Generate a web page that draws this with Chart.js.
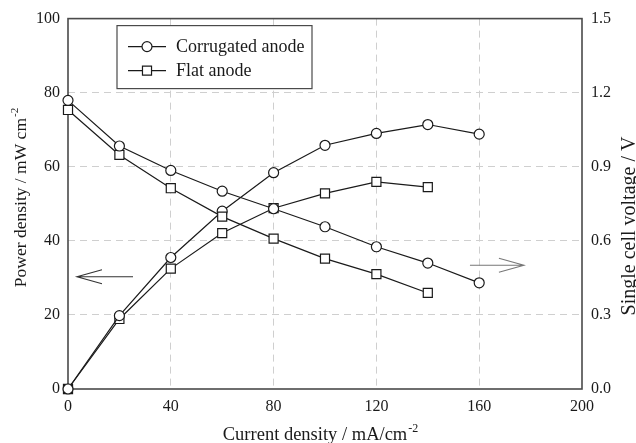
<!DOCTYPE html>
<html><head><meta charset="utf-8">
<script src="https://cdn.jsdelivr.net/npm/chart.js@4/dist/chart.umd.min.js"></script>
<style>html,body{margin:0;padding:0;background:#fff}#wrap{width:636px;height:443px}</style>
</head><body><div id="wrap"><canvas id="c" width="636" height="443"></canvas></div>
<script>
const currentDensity = [0, 20, 40, 60, 80, 100, 120, 140, 160];
const corrugatedPower = [0, 19.8, 35.5, 48.0, 58.4, 65.8, 69.0, 71.4, 68.8];
const corrugatedVoltage = [1.169, 0.984, 0.885, 0.801, 0.730, 0.657, 0.576, 0.510, 0.430];
const flatCurrent = [0, 20, 40, 60, 80, 100, 120, 140];
const flatPower = [0, 18.9, 32.5, 42.1, 48.8, 52.8, 55.9, 54.5];
const flatVoltage = [1.130, 0.948, 0.813, 0.698, 0.609, 0.528, 0.465, 0.389];
const xTicks = [0, 40, 80, 120, 160, 200];
const leftTicks = [0, 20, 40, 60, 80, 100];
const rightTicks = [0, 0.3, 0.6, 0.9, 1.2, 1.5];
const seriesNames = ['Corrugated anode', 'Flat anode'];
const xTitle = ['Current density / mA/cm', '-2'];
const yTitle = ['Power density / mW cm', '-2'];
const y1Title = 'Single cell voltage / V';
// arrows: [xStart, xEnd, yValue] in data units of x / left axis
const leftArrow = [25.3, 3.5, 30.3];
const rightArrow = [156.4, 177.4, 33.4];

const FONT = "'Liberation Serif', 'Times New Roman', serif";
const INK = '#1a1a1a';
const pts = (xs, ys) => xs.map((x, i) => ({x: x, y: ys[i]}));

function ds(label, data, axis, style, radius) {
  return {
    label: label, data: data, yAxisID: axis,
    borderColor: INK, borderWidth: 1.2, backgroundColor: '#fff',
    pointStyle: style, pointRadius: radius, pointBorderWidth: 1.2,
    pointBackgroundColor: '#fff', pointBorderColor: INK,
    showLine: true, tension: 0, clip: false
  };
}

function gridColor(min, max) {
  return (c) => (c.tick && (c.tick.value === min || c.tick.value === max)) ? 'rgba(0,0,0,0)' : '#cfcfcf';
}

function drawSupText(ctx, main, sup, x, y, size) {
  ctx.font = size + 'px ' + FONT;
  const w1 = ctx.measureText(main).width;
  ctx.font = Math.round(size * 0.65) + 'px ' + FONT;
  const w2 = ctx.measureText(sup).width;
  const start = x - (w1 + w2) / 2;
  ctx.textAlign = 'left';
  ctx.textBaseline = 'alphabetic';
  ctx.font = size + 'px ' + FONT;
  ctx.fillText(main, start, y);
  ctx.font = Math.round(size * 0.65) + 'px ' + FONT;
  ctx.fillText(sup, start + w1 + 1, y - size * 0.45);
}

function arrow(ctx, x0, x1, y, color) {
  const dir = x1 > x0 ? 1 : -1;
  ctx.save();
  ctx.strokeStyle = color; ctx.lineWidth = 1.1;
  ctx.beginPath();
  ctx.moveTo(x0, y); ctx.lineTo(x1, y);
  ctx.moveTo(x1 - dir * 25, y - 7); ctx.lineTo(x1, y); ctx.lineTo(x1 - dir * 25, y + 7);
  ctx.stroke();
  ctx.restore();
}

const framePlugin = {
  id: 'frame',
  beforeDatasetsDraw(chart) {
    const a = chart.chartArea, ctx = chart.ctx;
    ctx.save();
    ctx.strokeStyle = '#4a4a4a'; ctx.lineWidth = 1.6;
    ctx.strokeRect(a.left, a.top, a.right - a.left, a.bottom - a.top);
    ctx.restore();
  },
  afterDraw(chart) {
    const a = chart.chartArea, ctx = chart.ctx;
    const sx = chart.scales.x, sy = chart.scales.y;
    // arrows
    arrow(ctx, sx.getPixelForValue(leftArrow[0]), sx.getPixelForValue(leftArrow[1]), sy.getPixelForValue(leftArrow[2]), '#333');
    arrow(ctx, sx.getPixelForValue(rightArrow[0]), sx.getPixelForValue(rightArrow[1]), sy.getPixelForValue(rightArrow[2]), '#777');
    // legend
    const lx = a.left + 49, ly = a.top + 7, lw = 195, lh = 63;
    ctx.save();
    ctx.fillStyle = '#fff'; ctx.fillRect(lx, ly, lw, lh);
    ctx.strokeStyle = '#4a4a4a'; ctx.lineWidth = 1.2; ctx.strokeRect(lx, ly, lw, lh);
    const styles = [['circle', 5], ['rect', 6.4]];
    seriesNames.forEach((name, i) => {
      const yy = ly + 21 + i * 24;
      ctx.strokeStyle = INK; ctx.lineWidth = 1.2;
      ctx.beginPath(); ctx.moveTo(lx + 11, yy); ctx.lineTo(lx + 49, yy); ctx.stroke();
      ctx.fillStyle = '#fff'; ctx.strokeStyle = INK;
      Chart.helpers.drawPoint(ctx, {pointStyle: styles[i][0], radius: styles[i][1], borderWidth: 1.2, rotation: 0}, lx + 30, yy);
      ctx.fillStyle = '#1a1a1a';
      ctx.font = '18px ' + FONT; ctx.textAlign = 'left'; ctx.textBaseline = 'middle';
      ctx.fillText(name, lx + 59, yy + 1);
    });
    // axis titles
    ctx.fillStyle = '#1a1a1a';
    drawSupText(ctx, xTitle[0], xTitle[1], 320, 440, 18.5);
    ctx.save();
    ctx.translate(26, 198); ctx.rotate(-Math.PI / 2);
    drawSupText(ctx, yTitle[0], yTitle[1], 0, 0, 17.5);
    ctx.restore();
    ctx.save();
    ctx.translate(635, 226); ctx.rotate(-Math.PI / 2);
    ctx.font = '20px ' + FONT; ctx.textAlign = 'center'; ctx.textBaseline = 'alphabetic';
    ctx.fillText(y1Title, 0, 0);
    ctx.restore();
    ctx.restore();
  }
};

const tickFont = {family: FONT, size: 16};

new Chart(document.getElementById('c'), {
  type: 'scatter',
  data: {
    datasets: [
      ds(seriesNames[0], pts(currentDensity, corrugatedVoltage), 'y1', 'circle', 5),
      ds(seriesNames[1], pts(flatCurrent, flatVoltage), 'y1', 'rect', 6.4),
      ds(seriesNames[0], pts(currentDensity, corrugatedPower), 'y', 'circle', 5),
      ds(seriesNames[1], pts(flatCurrent, flatPower), 'y', 'rect', 6.4)
    ]
  },
  options: {
    responsive: false, animation: false, devicePixelRatio: 1,
    layout: {padding: {top: 16, left: 0, right: 0, bottom: 0}},
    plugins: {legend: {display: false}, tooltip: {enabled: false}},
    scales: {
      x: {
        type: 'linear', min: 0, max: 200,
        afterBuildTicks: (s) => { s.ticks = xTicks.map(v => ({value: v})); },
        afterFit: (s) => { s.height = 54; },
        grid: {color: gridColor(0, 200), drawTicks: false, lineWidth: 1},
        border: {display: false, dash: [7, 5]},
        ticks: {font: tickFont, color: '#1a1a1a', padding: 8, maxRotation: 0}
      },
      y: {
        type: 'linear', position: 'left', min: 0, max: 100,
        afterBuildTicks: (s) => { s.ticks = leftTicks.map(v => ({value: v})); },
        afterFit: (s) => { s.width = 68; },
        grid: {color: gridColor(0, 100), drawTicks: false, lineWidth: 1},
        border: {display: false, dash: [7, 5]},
        ticks: {font: tickFont, color: '#1a1a1a', padding: 8}
      },
      y1: {
        type: 'linear', position: 'right', min: 0, max: 1.5,
        afterBuildTicks: (s) => { s.ticks = rightTicks.map(v => ({value: v})); },
        afterFit: (s) => { s.width = 54; },
        grid: {display: false, drawTicks: false},
        border: {display: false},
        ticks: {font: tickFont, color: '#1a1a1a', padding: 9, callback: (v) => Number(v).toFixed(1)}
      }
    }
  },
  plugins: [framePlugin]
});
</script>
</body></html>
